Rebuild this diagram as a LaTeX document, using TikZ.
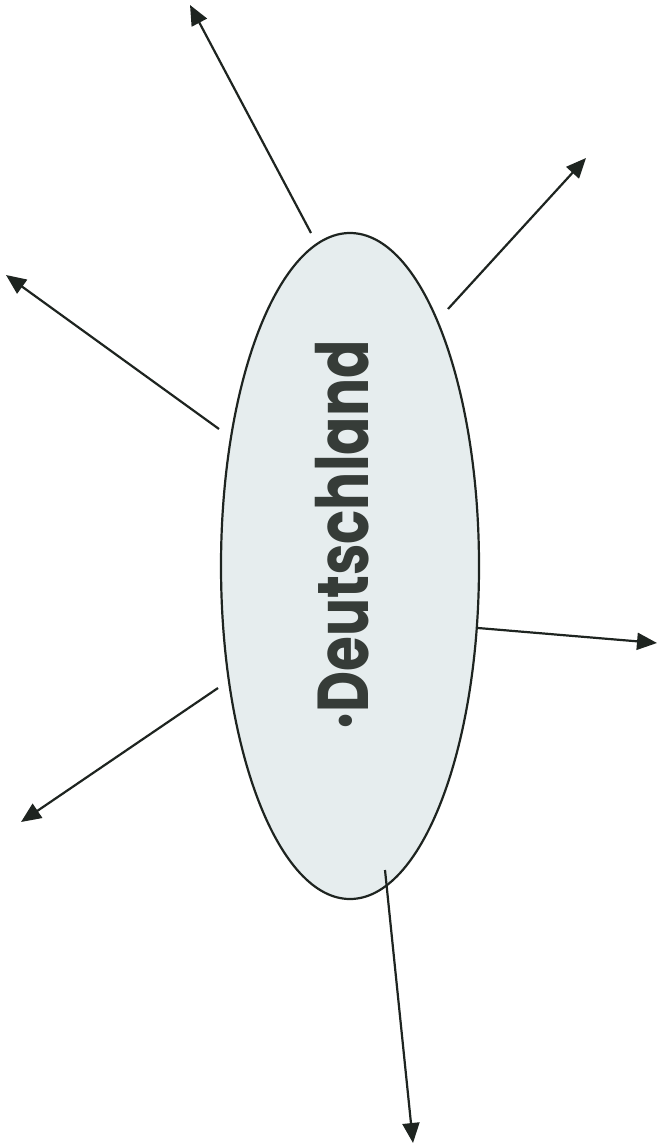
\documentclass[tikz,border=0pt]{standalone}
\usepackage{fontspec}
\newfontfamily\labelfont{Poppins}
\usetikzlibrary{shapes.geometric,arrows.meta}
\definecolor{ellfill}{HTML}{E6EDEE}
\definecolor{inkc}{HTML}{1E2420}
\definecolor{textc}{HTML}{363C38}
\tikzset{
  bubble/.style={ellipse, draw=inkc, line width=2.2pt, fill=ellfill, inner sep=0pt,
                 minimum width=258pt, minimum height=666pt},
  ray/.style={draw=inkc, line width=2.2pt, -{Triangle[length=20pt,width=17pt]}},
  lbl/.style={rotate=90, anchor=base, text=textc, inner sep=0pt,
              font=\labelfont\bfseries\fontsize{72}{80}\selectfont}
}
\begin{document}
\begin{tikzpicture}[x=1pt,y=-1pt]
\useasboundingbox (0,0) rectangle (658,1145);
\node[bubble] (e) at (350,566) {};
\node[lbl] (t) at (368,535) {\scalebox{0.785}[1]{·Deutschland}};
% tails
\coordinate (a1) at (311,233);
\coordinate (a2) at (448,309);
\coordinate (a3) at (219,429);
\coordinate (a4) at (478,628);
\coordinate (a5) at (218,688);
\coordinate (a6) at (385,870);
% tips
\coordinate (b1) at (190,5);
\coordinate (b2) at (586,158);
\coordinate (b3) at (6,275);
\coordinate (b4) at (657,643);
\coordinate (b5) at (21,822);
\coordinate (b6) at (413,1143);
\draw[ray] (a1) -- (b1);
\draw[ray] (a2) -- (b2);
\draw[ray] (a3) -- (b3);
\draw[ray] (a4) -- (b4);
\draw[ray] (a5) -- (b5);
\draw[ray] (a6) -- (b6);
\end{tikzpicture}
\end{document}
